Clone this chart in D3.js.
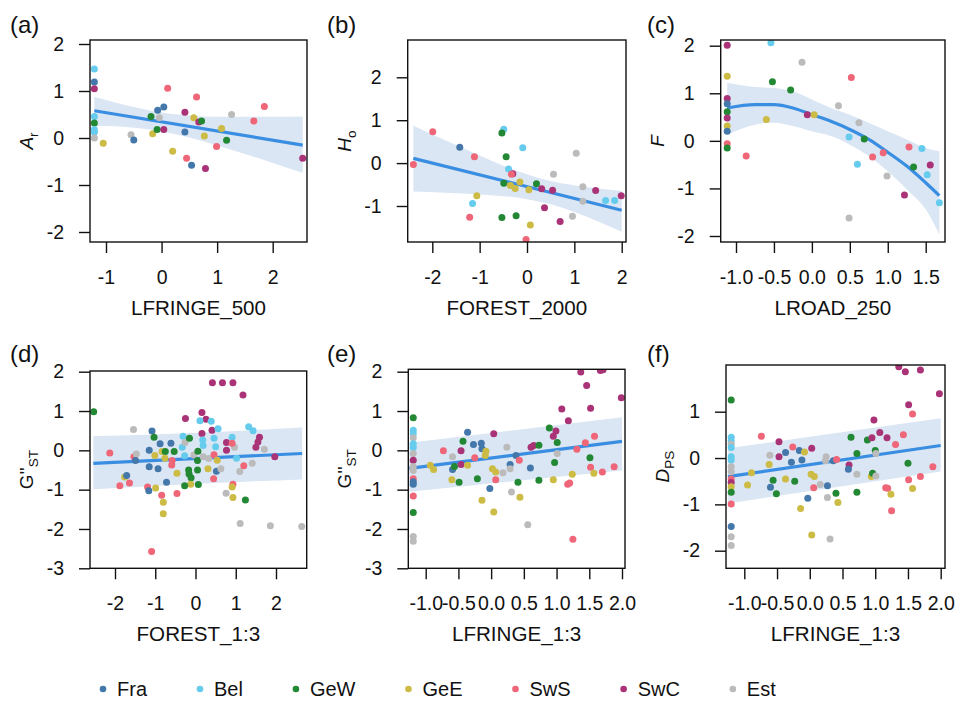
<!DOCTYPE html>
<html>
<head>
<meta charset="utf-8">
<script src="https://cdn.jsdelivr.net/npm/d3@7"></script>
<style>
  html, body { margin: 0; padding: 0; background: #fff; }
  svg { display: block; }
  text { font-family: 'Liberation Sans', Arial, Helvetica, sans-serif; fill: #111; }
</style>
</head>
<body>
<svg id="chart" width="962" height="709"></svg>
<script>
// ---------------- data ----------------
const groups = ['Fra', 'Bel', 'GeW', 'GeE', 'SwS', 'SwC', 'Est'];
const groupColors = ['#4477AA', '#66CCEE', '#228833', '#CCBB44', '#EE6677', '#AA3377', '#BBBBBB'];

// (a) Ar vs LFRINGE_500
const pointsA = [
  [-1.21,1.47,'Bel'],[-1.21,1.19,'Fra'],[-1.21,1.05,'SwC'],[-1.21,0.46,'Bel'],[-1.21,0.32,'GeW'],
  [-1.21,0.18,'Bel'],[-1.21,0.12,'Bel'],[-1.21,0.0,'Est'],[-1.05,-0.11,'GeE'],[-0.55,0.07,'Est'],
  [-0.50,-0.04,'Fra'],[-0.19,0.46,'GeW'],[-0.16,0.09,'GeE'],[-0.08,0.18,'GeW'],[-0.04,0.43,'Est'],
  [-0.07,0.59,'Fra'],[0.04,0.66,'Fra'],[0.04,0.18,'SwC'],[0.11,1.06,'SwS'],[0.20,-0.28,'GeE'],
  [0.42,0.55,'SwC'],[0.42,0.13,'Fra'],[0.45,-0.43,'SwS'],[0.54,-0.58,'Fra'],[0.58,0.43,'GeE'],
  [0.63,0.87,'SwS'],[0.67,0.34,'SwC'],[0.72,0.36,'GeW'],[0.77,0.04,'GeE'],[0.79,-0.65,'SwC'],
  [0.99,-0.18,'SwS'],[1.08,0.20,'GeE'],[1.17,-0.05,'GeW'],[1.26,0.50,'Est'],[1.66,0.36,'SwS'],
  [1.85,0.67,'SwS'],[2.54,-0.43,'SwC']
];
const lineA_x = [-1.21, 2.54];
const lineA_y = [0.58, -0.15];
const bandA_x  = [-1.21, -0.5, 0, 0.5, 1, 1.5, 2, 2.54];
const bandA_hi = [0.88, 0.66, 0.54, 0.48, 0.45, 0.45, 0.45, 0.46];
const bandA_lo = [0.26, 0.22, 0.14, 0.01, -0.16, -0.34, -0.53, -0.74];

// (b) Ho vs FOREST_2000
const pointsB = [
  [-2.40,-0.03,'SwS'],[-1.99,0.73,'SwS'],[-1.42,0.37,'Fra'],[-1.11,0.15,'SwS'],[-1.06,-0.76,'GeE'],
  [-1.15,-0.94,'Bel'],[-1.21,-1.26,'SwS'],[-0.49,0.79,'Bel'],[-0.53,0.70,'GeW'],[-0.44,0.15,'GeW'],
  [-0.39,-0.14,'Bel'],[-0.30,-0.25,'SwC'],[-0.33,-0.26,'SwS'],[-0.49,-0.47,'GeW'],[-0.35,-0.52,'GeE'],
  [-0.25,-0.59,'GeE'],[-0.15,-0.44,'GeE'],[-0.53,-1.27,'GeW'],[-0.23,-1.23,'GeW'],[-0.09,0.36,'Bel'],
  [0.04,-0.62,'GeE'],[0.07,-1.44,'GeE'],[-0.02,-1.78,'SwS'],[0.20,-0.48,'GeW'],[0.31,-0.60,'SwC'],
  [0.37,-1.04,'SwC'],[0.54,-0.63,'SwC'],[0.70,-1.36,'SwC'],[0.56,-0.26,'Est'],[1.04,0.23,'Est'],
  [0.96,-1.24,'Est'],[1.18,-0.55,'Est'],[1.18,-0.89,'Est'],[1.45,-0.64,'SwC'],[1.66,-0.87,'Bel'],
  [1.85,-0.87,'Bel'],[1.99,-0.76,'SwC']
];
const lineB_x = [-2.4, 2.0];
const lineB_y = [0.11, -1.10];
const bandB_x  = [-2.4, -1.5, -1, -0.5, 0, 0.5, 1, 1.5, 2];
const bandB_hi = [0.87, 0.42, 0.18, -0.06, -0.26, -0.42, -0.52, -0.59, -0.65];
const bandB_lo = [-0.66, -0.70, -0.73, -0.77, -0.84, -0.96, -1.14, -1.36, -1.60];

// (c) F vs LROAD_250
const pointsC = [
  [-1.116,2.01,'SwC'],[-1.116,1.36,'GeE'],[-1.116,0.89,'SwC'],[-1.116,0.78,'Fra'],[-1.116,0.61,'GeW'],
  [-1.116,0.48,'SwC'],[-1.116,0.31,'GeE'],[-1.116,0.20,'Fra'],[-1.116,-0.06,'SwS'],[-1.116,-0.15,'GeW'],
  [-0.866,-0.32,'SwS'],[-0.60,0.45,'GeE'],[-0.54,2.06,'Bel'],[-0.52,1.24,'GeW'],[-0.28,1.07,'GeW'],
  [-0.13,1.65,'Est'],[-0.06,0.55,'SwC'],[0.03,0.55,'GeE'],[0.35,0.74,'Est'],[0.52,1.33,'SwS'],
  [0.49,0.08,'Bel'],[0.62,0.38,'Est'],[0.60,-0.49,'Bel'],[0.69,0.04,'GeW'],[0.80,-0.34,'SwS'],
  [0.94,-0.25,'SwS'],[0.99,-0.74,'Est'],[0.49,-1.62,'Est'],[1.28,-0.13,'SwS'],[1.34,-0.55,'GeW'],
  [1.22,-1.14,'SwC'],[1.45,-0.16,'Bel'],[1.56,-0.51,'SwC'],[1.52,-0.71,'Bel'],[1.68,-1.30,'Bel']
];
const lineC_x = [-1.116, -0.75, -0.5, -0.25, 0, 0.25, 0.5, 0.75, 1.0, 1.25, 1.5, 1.68];
const lineC_y = [0.69, 0.76, 0.76, 0.69, 0.55, 0.41, 0.24, 0.03, -0.24, -0.53, -0.88, -1.15];
const bandC_x  = lineC_x;
const bandC_hi = [1.22, 1.13, 1.11, 1.04, 0.87, 0.69, 0.55, 0.38, 0.20, 0.03, -0.15, -0.22];
const bandC_lo = [0.13, 0.34, 0.38, 0.31, 0.20, 0.10, -0.08, -0.32, -0.64, -1.02, -1.44, -1.97];

// (d) G''ST vs FOREST_1:3
const pointsD = [
  [-2.53,0.98,'GeW'],[-2.13,-0.07,'SwS'],[-1.54,0.53,'Est'],[-1.53,-0.16,'SwS'],[-1.47,-0.09,'Est'],
  [-1.49,-0.26,'Fra'],[-1.76,-0.68,'GeE'],[-1.71,-0.64,'Fra'],[-1.88,-0.90,'SwS'],[-1.64,-0.83,'SwS'],
  [-1.19,-0.93,'SwS'],[-1.16,-1.03,'Fra'],[-1.08,0.49,'Fra'],[-1.03,0.33,'GeW'],[-1.15,0.0,'Fra'],
  [-1.15,-0.42,'Fra'],[-1.01,-0.13,'GeE'],[-0.99,-0.96,'GeE'],[-0.93,-0.47,'Fra'],[-0.88,0.17,'Fra'],
  [-0.83,-0.03,'GeE'],[-0.75,-0.03,'GeW'],[-0.76,-0.20,'GeE'],[-0.84,-1.14,'SwS'],[-0.80,-1.32,'GeE'],
  [-0.80,-1.61,'GeE'],[-0.72,-0.81,'Fra'],[-0.61,0.18,'Fra'],[-0.53,-0.03,'GeW'],[-0.58,-0.26,'SwS'],
  [-0.59,-0.37,'SwS'],[-0.46,-0.58,'GeE'],[-0.46,-1.10,'SwS'],[-0.31,0.36,'Bel'],[-0.33,0.08,'Bel'],
  [-0.26,0.20,'Est'],[-0.27,-0.14,'Bel'],[-0.25,0.81,'SwC'],[-0.15,0.31,'GeW'],[-0.17,-0.50,'GeW'],
  [-0.16,-0.60,'GeW'],[-0.11,-0.70,'GeW'],[-0.12,-0.86,'GeE'],[-0.27,-0.90,'GeW'],[-0.04,-0.12,'Est'],
  [0.06,-0.02,'GeW'],[0.05,-0.26,'GeW'],[0.05,-0.50,'GeW'],[0.07,-0.87,'GeW'],[0.16,0.96,'SwC'],
  [0.26,0.79,'SwC'],[0.11,0.75,'Bel'],[0.16,0.43,'SwC'],[0.18,0.26,'Bel'],[0.19,0.12,'Bel'],
  [0.19,-0.16,'Est'],[0.33,-0.21,'Est'],[0.31,-0.47,'GeE'],[0.39,0.74,'Bel'],[0.41,0.51,'SwC'],
  [0.46,0.31,'Bel'],[0.42,1.72,'SwC'],[0.67,1.72,'SwC'],[0.93,1.72,'SwC'],[1.18,1.41,'SwC'],
  [0.56,0.55,'Bel'],[0.50,0.09,'Bel'],[0.46,-0.11,'SwS'],[0.54,-0.25,'GeE'],[0.52,-0.53,'Fra'],
  [0.63,-0.47,'Est'],[0.45,-0.72,'SwS'],[0.77,0.20,'SwC'],[0.77,0.0,'SwC'],[0.91,0.33,'Bel'],
  [0.97,0.08,'Est'],[0.91,0.18,'SwS'],[0.93,-0.86,'SwS'],[0.91,-0.93,'GeE'],[0.76,-1.09,'Est'],
  [0.93,-1.20,'GeE'],[1.02,-0.20,'Bel'],[1.10,-0.54,'Est'],[1.20,-0.39,'SwS'],[1.24,-1.26,'GeW'],
  [1.11,-1.86,'Est'],[1.32,0.60,'Bel'],[1.43,0.50,'Bel'],[1.41,-0.33,'Est'],[1.59,0.33,'SwC'],
  [1.55,0.21,'SwC'],[1.50,0.08,'SwC'],[1.71,0.03,'Est'],[1.97,-0.16,'SwC'],[1.86,-1.92,'Est'],
  [2.64,-1.94,'Est'],[-1.09,-2.57,'SwS']
];
const lineD_x = [-2.54, 2.65];
const lineD_y = [-0.33, -0.08];
const bandD_x  = [-2.54, 0.05, 2.65];
const bandD_hi = [0.36, 0.45, 0.58];
const bandD_lo = [-0.99, -0.85, -0.74];

// (e) G''ST vs LFRINGE_1:3
const pointsE = [
  [-1.19,0.83,'GeW'],[-1.19,0.51,'Bel'],[-1.19,0.42,'Bel'],[-1.19,0.32,'Est'],[-1.19,0.17,'Bel'],
  [-1.19,0.07,'Bel'],[-1.19,-0.08,'Est'],[-1.19,-0.25,'SwC'],[-1.19,-0.42,'Est'],[-1.19,-0.51,'Est'],
  [-1.19,-0.72,'SwS'],[-1.19,-0.80,'Fra'],[-1.19,-0.86,'Fra'],[-1.19,-1.16,'SwS'],[-1.19,-1.58,'GeW'],
  [-1.19,-2.19,'Est'],[-1.19,-2.31,'Est'],
  [-0.93,-0.38,'GeE'],[-0.88,-0.49,'GeE'],[-0.73,-0.01,'SwS'],[-0.59,-0.16,'Est'],[-0.60,-0.75,'GeE'],
  [-0.59,-0.49,'Fra'],[-0.56,-0.41,'GeW'],[-0.49,-0.81,'GeW'],[-0.46,-0.01,'SwC'],[-0.46,-0.36,'SwC'],
  [-0.43,0.23,'GeW'],[-0.36,-0.38,'GeE'],[-0.36,0.46,'Fra'],[-0.27,0.15,'Fra'],[-0.25,-0.19,'SwS'],
  [-0.21,-0.72,'GeW'],[-0.15,0.18,'Fra'],[-0.14,0.04,'Fra'],[-0.08,-0.02,'GeE'],[-0.09,-0.13,'GeE'],
  [-0.14,-1.27,'GeE'],[-0.02,-0.97,'Fra'],[0.04,0.42,'SwC'],[0.02,-0.47,'GeE'],[0.07,-0.55,'GeE'],
  [0.07,-0.75,'SwS'],[0.04,-1.57,'GeE'],[0.18,-0.57,'Est'],[0.24,0.08,'Est'],[0.29,-0.36,'Fra'],
  [0.29,-0.47,'Est'],[0.31,-1.06,'Est'],[0.38,-0.13,'Fra'],[0.43,-0.25,'SwS'],[0.44,-1.19,'GeE'],
  [0.41,-0.81,'GeW'],[0.56,-1.89,'Est'],[0.60,-0.45,'Fra'],[0.61,0.08,'SwC'],[0.65,0.12,'SwC'],
  [0.73,0.13,'GeW'],[0.73,-0.76,'GeW'],[0.89,0.57,'GeW'],[0.95,0.36,'SwC'],[0.99,0.49,'SwC'],
  [1.01,0.20,'GeW'],[0.97,-0.31,'GeW'],[1.01,-0.08,'Est'],[0.95,-0.75,'GeE'],[1.08,1.05,'SwC'],
  [1.18,0.75,'SwC'],[1.17,-0.86,'SwS'],[1.20,-0.83,'SwS'],[1.24,-0.61,'GeE'],[1.25,-2.26,'SwS'],
  [1.31,0.03,'SwS'],[1.37,1.99,'SwC'],[1.46,1.65,'SwC'],[1.52,1.07,'SwC'],[1.44,0.19,'SwS'],
  [1.51,-0.19,'GeW'],[1.52,-0.43,'SwS'],[1.58,0.36,'SwS'],[1.57,-0.58,'GeE'],[1.67,2.03,'SwC'],
  [1.71,2.05,'SwC'],[1.70,-0.55,'SwS'],[1.88,-0.42,'SwS'],[1.99,1.34,'SwC']
];
const lineE_x = [-1.25, 2.0];
const lineE_y = [-0.46, 0.23];
const bandE_x  = [-1.25, 2.0];
const bandE_hi = [0.19, 0.84];
const bandE_lo = [-1.05, -0.51];

// (f) DPS vs LFRINGE_1:3
const pointsF = [
  [-1.20,1.25,'GeW'],[-1.20,0.45,'Bel'],[-1.20,0.37,'Bel'],[-1.20,0.30,'Est'],[-1.20,0.23,'Bel'],
  [-1.20,0.03,'Bel'],[-1.20,-0.04,'Bel'],[-1.20,-0.19,'Est'],[-1.20,-0.29,'Est'],[-1.20,-0.45,'SwS'],
  [-1.20,-0.53,'SwC'],[-1.20,-0.62,'GeE'],[-1.20,-0.74,'GeW'],[-1.20,-0.99,'SwS'],[-1.20,-1.48,'Fra'],
  [-1.20,-1.70,'Est'],[-1.20,-1.89,'Est'],
  [-0.74,0.47,'SwS'],[-0.89,-0.32,'GeE'],[-0.95,-0.58,'GeE'],[-0.61,0.06,'Est'],[-0.62,-0.14,'GeE'],
  [-0.60,-0.63,'Fra'],[-0.56,-0.48,'GeW'],[-0.51,-0.77,'GeW'],[-0.47,0.35,'SwC'],[-0.47,0.03,'SwC'],
  [-0.37,0.12,'Fra'],[-0.37,-0.45,'GeE'],[-0.26,0.24,'SwS'],[-0.28,-0.09,'Fra'],[-0.23,-0.50,'GeW'],
  [-0.16,0.16,'Fra'],[-0.12,-0.04,'Fra'],[-0.08,0.13,'GeE'],[-0.14,-1.09,'GeE'],[-0.03,-0.87,'Fra'],
  [0.03,0.21,'SwC'],[0.02,-0.35,'GeE'],[0.07,-0.40,'GeE'],[0.06,-0.64,'SwS'],[0.03,-1.66,'GeE'],
  [0.16,-0.57,'Est'],[0.25,0.03,'Est'],[0.24,-0.06,'Est'],[0.27,-0.60,'Fra'],[0.27,-0.85,'Est'],
  [0.36,-0.06,'Fra'],[0.41,-0.03,'SwS'],[0.40,-0.76,'GeW'],[0.43,-0.96,'GeE'],[0.31,-1.75,'Est'],
  [0.60,-0.15,'SwC'],[0.59,-0.24,'Fra'],[0.63,0.45,'GeW'],[0.72,0.10,'GeW'],[0.72,-0.35,'Est'],
  [0.72,-0.74,'GeW'],[0.88,0.39,'GeW'],[0.95,0.44,'SwC'],[0.98,0.82,'SwC'],[1.00,0.16,'GeW'],
  [1.01,0.10,'Est'],[0.94,-0.40,'GeE'],[0.96,-0.33,'GeW'],[1.01,-0.39,'Est'],[1.07,0.55,'SwC'],
  [1.16,-0.64,'SwS'],[1.19,-0.65,'SwS'],[1.24,-0.78,'GeE'],[1.25,-1.14,'SwS'],[1.18,0.44,'SwC'],
  [1.31,0.29,'SwS'],[1.36,1.97,'SwC'],[1.46,1.86,'SwC'],[1.51,1.15,'SwC'],[1.43,0.50,'SwS'],
  [1.50,-0.11,'GeW'],[1.51,-0.47,'SwS'],[1.57,0.95,'SwS'],[1.57,-0.66,'GeE'],[1.69,1.90,'SwC'],
  [1.69,-0.40,'SwS'],[1.88,-0.19,'SwS'],[1.98,1.39,'SwC']
];
const lineF_x = [-1.25, 2.0];
const lineF_y = [-0.40, 0.27];
const bandF_x  = [-1.25, 2.0];
const bandF_hi = [0.21, 0.86];
const bandF_lo = [-0.98, -0.29];

// tick values
const ticksInt3 = [-1, 0, 1, 2];
const ticksInt5 = [-2, -1, 0, 1, 2];
const ticksB_y = [-1, 0, 1, 2];
const ticksD_y = [-3, -2, -1, 0, 1, 2];
const ticksF_y = [-2, -1, 0, 1];
const ticksC_x = [-1.0, -0.5, 0.0, 0.5, 1.0, 1.5];
const ticksEF_x = [-1.0, -0.5, 0.0, 0.5, 1.0, 1.5, 2.0];

// ---------------- layout ----------------
const colorScale = d3.scaleOrdinal().domain(groups).range(groupColors);
const fmtInt = d => String(d);
const fmt1 = d => d.toFixed(1);

const panels = [
  { label: '(a)', lx: 10, ly: 33, box: [90, 40, 307, 242],
    xd: [-1, 2], xr: [106, 272.7], yd: [-2, 2], yr: [232, 44],
    xt: ticksInt3, xf: fmtInt, yt: ticksInt5,
    pts: pointsA, lx_: lineA_x, ly_: lineA_y, bx: bandA_x, bhi: bandA_hi, blo: bandA_lo,
    xlab: 'LFRINGE_500', ylab: [['A', 'i'], ['r', 's']] },
  { label: '(b)', lx: 327, ly: 33, box: [407.7, 40, 626, 242],
    xd: [-2, 2], xr: [432.3, 621.7], yd: [-1, 2], yr: [206, 77.3],
    xt: ticksInt5, xf: fmtInt, yt: ticksB_y,
    pts: pointsB, lx_: lineB_x, ly_: lineB_y, bx: bandB_x, bhi: bandB_hi, blo: bandB_lo,
    xlab: 'FOREST_2000', ylab: [['H', 'i'], ['o', 's']] },
  { label: '(c)', lx: 647, ly: 33, box: [720.7, 40, 945, 242],
    xd: [-1, 1.5], xr: [736, 925.7], yd: [-2, 2], yr: [236, 45.7],
    xt: ticksC_x, xf: fmt1, yt: ticksInt5,
    pts: pointsC, lx_: lineC_x, ly_: lineC_y, bx: bandC_x, bhi: bandC_hi, blo: bandC_lo,
    xlab: 'LROAD_250', ylab: [['F', 'i']] },
  { label: '(d)', lx: 10, ly: 362, box: [90, 371, 306.7, 568.3],
    xd: [-2, 2], xr: [115, 276], yd: [-3, 2], yr: [568.3, 371.7],
    xt: ticksInt5, xf: fmtInt, yt: ticksD_y,
    pts: pointsD, lx_: lineD_x, ly_: lineD_y, bx: bandD_x, bhi: bandD_hi, blo: bandD_lo,
    xlab: 'FOREST_1:3', ylab: [["G''", 'n'], ['ST', 's']] },
  { label: '(e)', lx: 327, ly: 362, box: [408.3, 369.3, 625, 568.3],
    xd: [-1, 2], xr: [425.7, 622], yd: [-3, 2], yr: [568.3, 371.7],
    xt: ticksEF_x, xf: fmt1, yt: ticksD_y,
    pts: pointsE, lx_: lineE_x, ly_: lineE_y, bx: bandE_x, bhi: bandE_hi, blo: bandE_lo,
    xlab: 'LFRINGE_1:3', ylab: [["G''", 'n'], ['ST', 's']] },
  { label: '(f)', lx: 647, ly: 362, box: [726, 365, 945, 568.3],
    xd: [-1, 2], xr: [744.3, 940.7], yd: [-2, 1], yr: [550.7, 411.7],
    xt: ticksEF_x, xf: fmt1, yt: ticksF_y,
    pts: pointsF, lx_: lineF_x, ly_: lineF_y, bx: bandF_x, bhi: bandF_hi, blo: bandF_lo,
    xlab: 'LFRINGE_1:3', ylab: [['D', 'i'], ['PS', 's']] }
];

const svg = d3.select('#chart');
const TICK = 11, FS = 19.5;

panels.forEach((p, k) => {
  const [x0, y0, x1, y1] = p.box;
  const x = d3.scaleLinear().domain(p.xd).range(p.xr);
  const y = d3.scaleLinear().domain(p.yd).range(p.yr);
  const g = svg.append('g');
  const cid = 'clip' + k;
  svg.append('clipPath').attr('id', cid).append('rect')
    .attr('x', x0).attr('y', y0).attr('width', x1 - x0).attr('height', y1 - y0);
  const inner = g.append('g').attr('clip-path', `url(#${cid})`);

  // band
  const bandData = p.bx.map((v, i) => ({ x: v, lo: p.blo[i], hi: p.bhi[i] }));
  inner.append('path').datum(bandData)
    .attr('d', d3.area().x(d => x(d.x)).y0(d => y(d.lo)).y1(d => y(d.hi)).curve(d3.curveMonotoneX))
    .attr('fill', '#dbe6f4');
  // line
  const lineData = p.lx_.map((v, i) => ({ x: v, y: p.ly_[i] }));
  inner.append('path').datum(lineData)
    .attr('d', d3.line().x(d => x(d.x)).y(d => y(d.y)).curve(d3.curveMonotoneX))
    .attr('fill', 'none').attr('stroke', '#3a8ee2').attr('stroke-width', 3.2)
    .attr('stroke-linecap', 'butt');
  // points
  inner.selectAll('circle').data(p.pts).join('circle')
    .attr('cx', d => x(d[0])).attr('cy', d => y(d[1])).attr('r', 3.5)
    .attr('fill', d => colorScale(d[2]));

  // box
  g.append('rect').attr('x', x0).attr('y', y0).attr('width', x1 - x0).attr('height', y1 - y0)
    .attr('fill', 'none').attr('stroke', '#111').attr('stroke-width', 1.4);

  // axes
  const ax = g.append('g').attr('transform', `translate(0,${y1})`)
    .call(d3.axisBottom(x).tickValues(p.xt).tickFormat(p.xf).tickSize(TICK).tickPadding(17));
  const ay = g.append('g').attr('transform', `translate(${x0},0)`)
    .call(d3.axisLeft(y).tickValues(p.yt).tickFormat(fmtInt).tickSize(TICK).tickPadding(15));
  [ax, ay].forEach(a => {
    a.select('.domain').remove();
    a.selectAll('.tick line').attr('stroke', '#111').attr('stroke-width', 1.4);
    a.selectAll('.tick text').attr('font-size', FS).attr('fill', '#111')
      .attr('font-family', "'Liberation Sans', Arial, sans-serif");
  });

  // x title
  g.append('text').attr('x', (x0 + x1) / 2).attr('y', y1 + 73)
    .attr('text-anchor', 'middle').attr('font-size', 20.6).text(p.xlab);

  // y title
  const yt = g.append('text')
    .attr('transform', `translate(${x0 - 57},${(y0 + y1) / 2}) rotate(-90)`)
    .attr('text-anchor', 'middle').attr('font-size', 19);
  p.ylab.forEach(([t, kind]) => {
    const ts = yt.append('tspan').text(t);
    if (kind === 'i') ts.attr('font-style', 'italic');
    if (kind === 's') ts.attr('font-size', 13.5).attr('dy', 5);
  });

  // panel label
  g.append('text').attr('x', p.lx).attr('y', p.ly).attr('font-size', 24).text(p.label);
});

// legend
const legY = 689;
const leg = svg.append('g');
let cx = 103;
groups.forEach((gname, i) => {
  leg.append('circle').attr('cx', cx).attr('cy', legY).attr('r', 3.3).attr('fill', colorScale(gname));
  const t = leg.append('text').attr('x', cx + 14).attr('y', legY + 7)
    .attr('font-size', 20).text(gname);
  const w = t.node().getComputedTextLength();
  cx = cx + 14 + w + 53;
});
</script>
</body>
</html>
